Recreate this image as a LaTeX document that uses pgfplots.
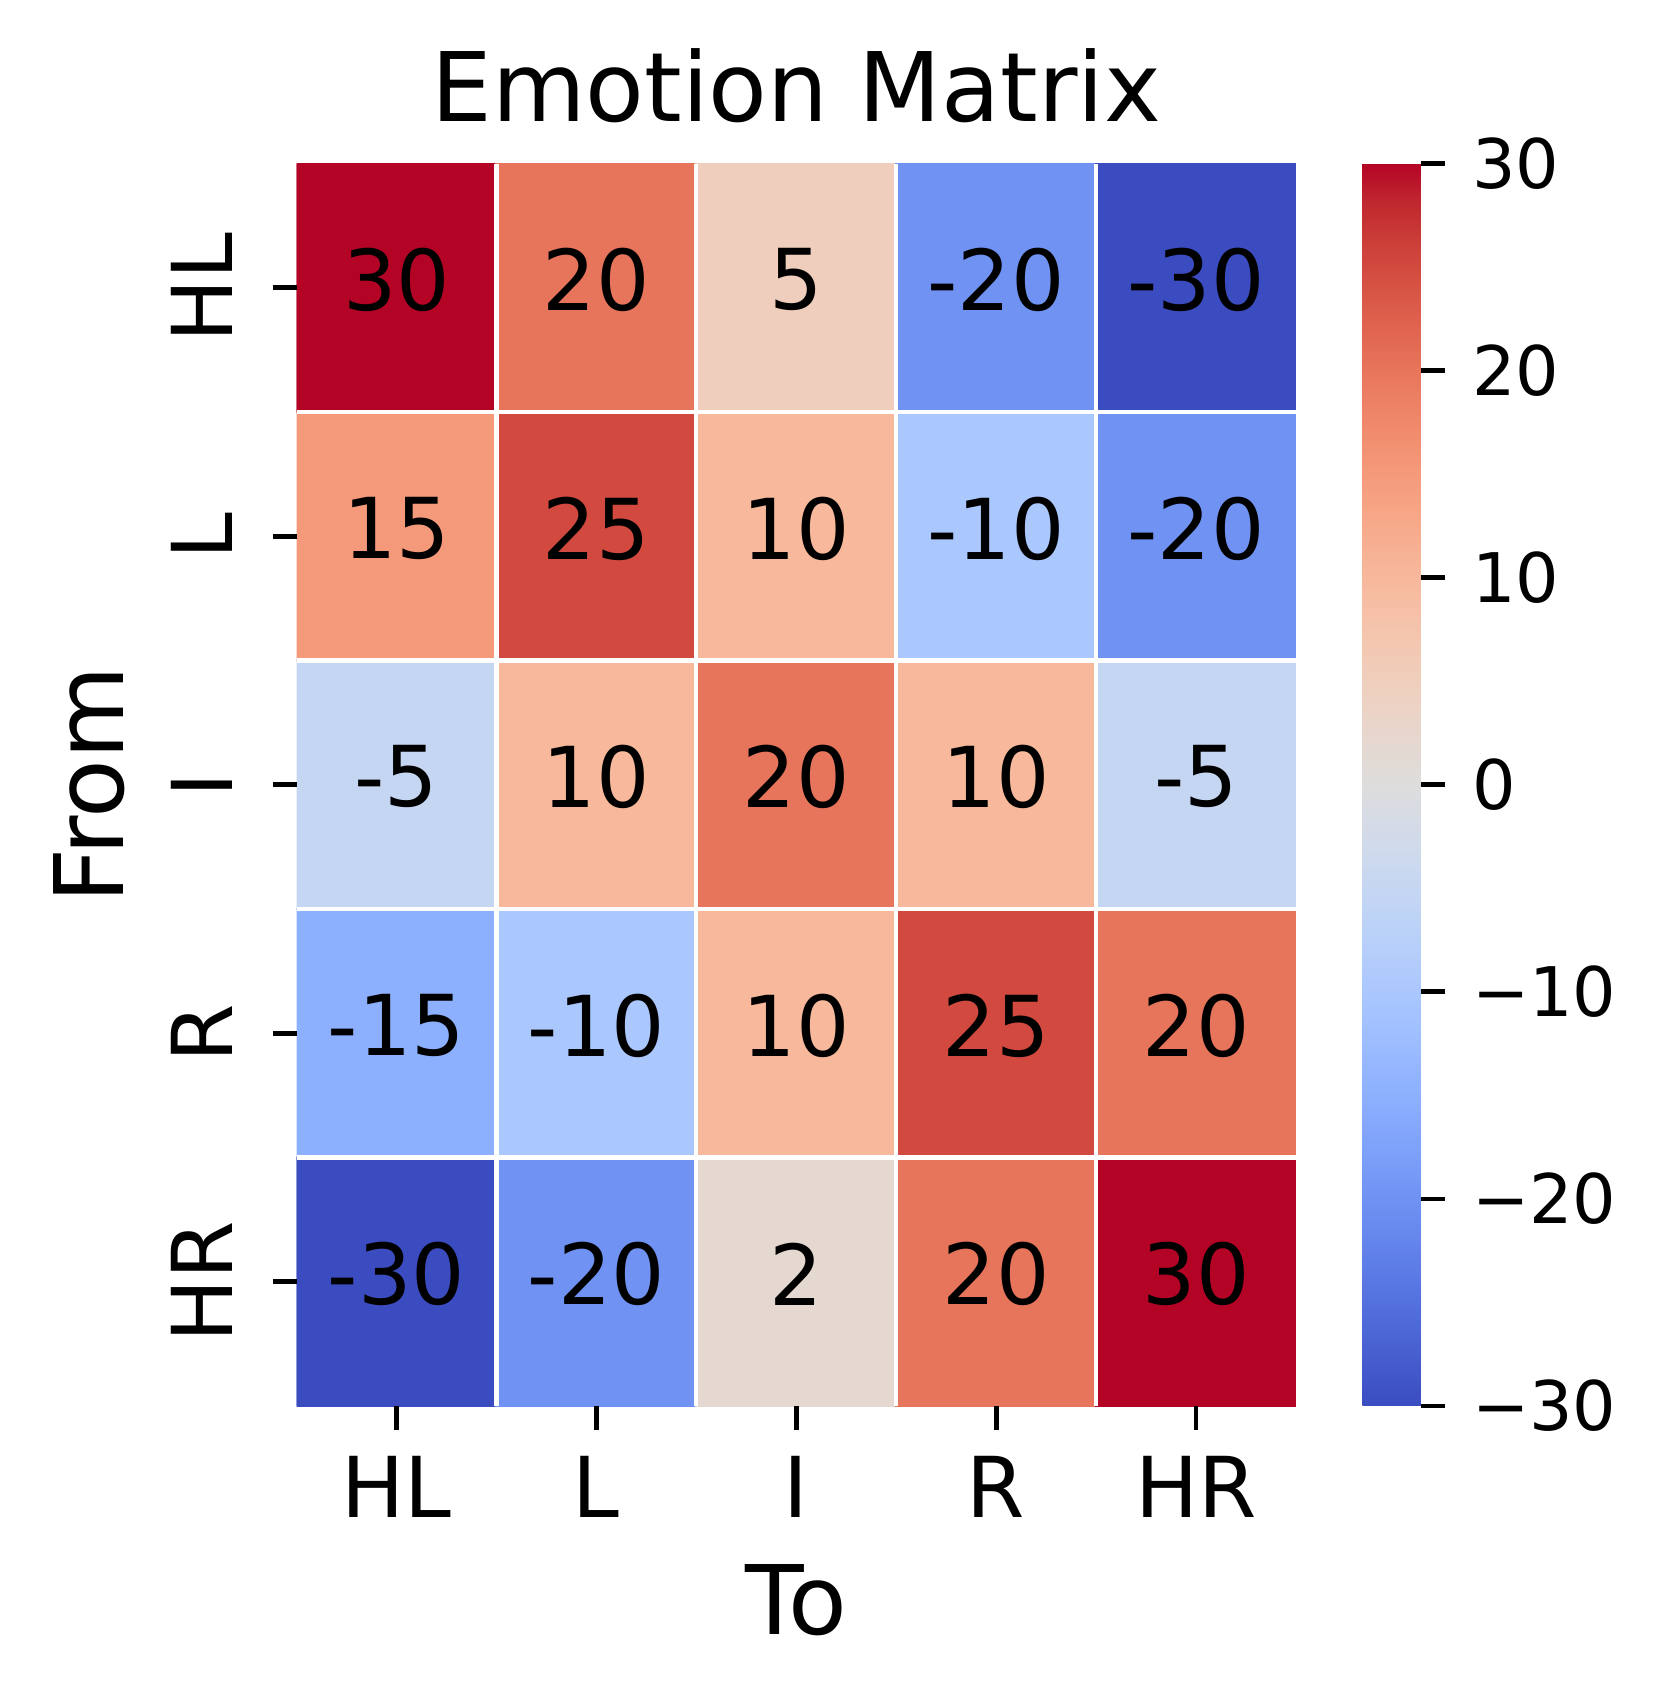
\documentclass[border=0pt]{standalone}
\usepackage{pgfplots}
\pgfplotsset{compat=1.18}
\usepackage{fontspec}
\setmainfont{DejaVu Sans}
\pgfplotsset{
 colormap={coolwarm}{
  rgb255(0)=(59,76,192) rgb255(1)=(68,90,204) rgb255(2)=(77,104,215) rgb255(3)=(87,117,225)
  rgb255(4)=(98,130,234) rgb255(5)=(108,142,241) rgb255(6)=(119,154,247) rgb255(7)=(130,165,251)
  rgb255(8)=(141,176,254) rgb255(9)=(152,185,255) rgb255(10)=(163,194,255) rgb255(11)=(174,201,253)
  rgb255(12)=(184,208,249) rgb255(13)=(194,213,244) rgb255(14)=(204,217,238) rgb255(15)=(213,219,230)
  rgb255(16)=(221,221,221) rgb255(17)=(229,216,209) rgb255(18)=(236,211,197) rgb255(19)=(241,204,185)
  rgb255(20)=(245,196,173) rgb255(21)=(247,187,160) rgb255(22)=(247,177,148) rgb255(23)=(247,166,135)
  rgb255(24)=(244,154,123) rgb255(25)=(241,141,111) rgb255(26)=(236,127,99) rgb255(27)=(229,112,88)
  rgb255(28)=(222,96,77) rgb255(29)=(213,80,66) rgb255(30)=(203,62,56) rgb255(31)=(192,40,47)
  rgb255(32)=(180,4,38)
 }
}
\begin{document}
\begin{tikzpicture}
\useasboundingbox (-49.42pt,-49.5pt) rectangle (227.75pt,234.33pt);
\begin{axis}[
  at={(0pt,0pt)}, anchor=south west,
  scale only axis,
  width=166.58pt, height=207.08pt,
  xmin=-0.5, xmax=4.5, ymin=-0.5, ymax=4.5,
  y dir=reverse,
  enlargelimits=false,
  axis on top,
  axis line style={draw=none},
  xtick={0,1,2,3,4}, ytick={0,1,2,3,4},
  xticklabels={HL,L,I,R,HR},
  yticklabels={HL,L,I,R,HR},
  xtick pos=bottom, ytick pos=left,
  tick align=outside,
  major tick length=4pt,
  tick style={black, line width=0.8pt},
  xticklabel style={font=\fontsize{14}{16}\selectfont, inner sep=4.2pt},
  yticklabel style={font=\fontsize{14}{16}\selectfont, rotate=90, anchor=south, inner sep=6.5pt},
  extra x ticks={0.5,1.5,2.5,3.5},
  extra y ticks={0.5,1.5,2.5,3.5},
  extra x tick labels={}, extra y tick labels={},
  extra tick style={grid=major, major grid style={white, line width=0.7pt}, major tick length=0pt},
  title={Emotion Matrix},
  every axis title shift=0pt,
  title style={font=\fontsize{16}{19}\selectfont, at={(axis description cs:0.5,1.0338)}, anchor=base},
  xlabel={To},
  xlabel style={font=\fontsize{16}{19}\selectfont, at={(axis description cs:0.5,-0.1835)}, anchor=base},
  ylabel={From},
  ylabel style={font=\fontsize{16}{19}\selectfont, at={(axis description cs:-0.1735,0.5)}, rotate=0, anchor=base},
  colormap name=coolwarm,
  point meta min=-30, point meta max=30,
  colorbar,
  colorbar shift/.style={xshift=11.05pt},
  colorbar style={
    at={(parent axis.north east)}, anchor=north west,
    width=9.78pt,
    ytick={-30,-20,-10,0,10,20,30},
    yticklabels={−30,−20,−10,0,10,20,30},
    yticklabel style={font=\fontsize{11.4}{13}\selectfont, xshift=1pt},
    axis line style={draw=none},
    ytick pos=right, yticklabel pos=right,
    tick align=outside,
    major tick length=4pt,
    tick style={black, line width=0.8pt},
  },
]
\addplot[matrix plot*, mesh/cols=5, mesh/rows=5, point meta=explicit,
  nodes near coords={\pgfmathprintnumber[assume math mode=true]{\pgfplotspointmeta}},
  nodes near coords align={center},
  every node near coord/.append style={text=black, anchor=center, yshift=1.3pt, font=\fontsize{14}{16}\selectfont},
] table[meta=c] {
x y c
0 0 30
1 0 20
2 0 5
3 0 -20
4 0 -30
0 1 15
1 1 25
2 1 10
3 1 -10
4 1 -20
0 2 -5
1 2 10
2 2 20
3 2 10
4 2 -5
0 3 -15
1 3 -10
2 3 10
3 3 25
4 3 20
0 4 -30
1 4 -20
2 4 2
3 4 20
4 4 30
};
\end{axis}
\end{tikzpicture}
\end{document}
